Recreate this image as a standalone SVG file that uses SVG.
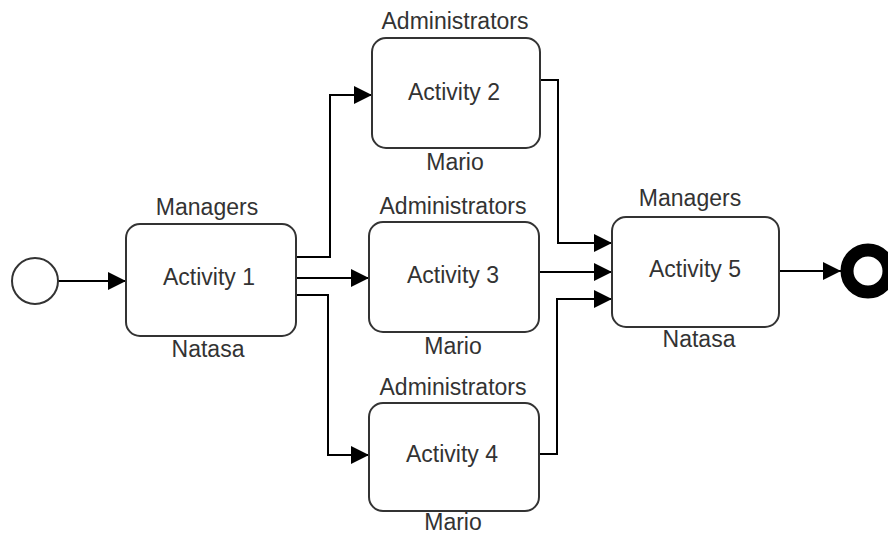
<svg xmlns="http://www.w3.org/2000/svg" width="888" height="535" viewBox="0 0 888 535">
<defs>
<marker id="arr" viewBox="0 0 18 18" refX="18" refY="9" markerWidth="18" markerHeight="18" markerUnits="userSpaceOnUse" orient="auto">
<path d="M0,0 L18,9 L0,18 Z" fill="#000"/>
</marker>
<style>
.box{fill:#fff;stroke:#333;stroke-width:2}
.t{font-family:"Liberation Sans",Arial,sans-serif;font-size:23px;fill:#333;text-anchor:middle}
.c{fill:none;stroke:#000;stroke-width:2;marker-end:url(#arr)}
</style>
</defs>
<rect width="888" height="535" fill="#fff"/>
<g id="connectors">
<path class="c" d="M58,281 H126"/>
<path class="c" d="M296,257 H330 V95 H372"/>
<path class="c" d="M296,278 H369"/>
<path class="c" d="M296,295 H328 V455 H369"/>
<path class="c" d="M540,80 H558 V243 H612"/>
<path class="c" d="M539,272 H612"/>
<path class="c" d="M539,454 H557 V299 H612"/>
<path class="c" d="M779,271 H841"/>
</g>
<g id="start"><circle cx="35" cy="281" r="23" fill="#fff" stroke="#333" stroke-width="2"/></g>
<g id="end"><circle cx="868" cy="271" r="21" fill="#fff" stroke="#000" stroke-width="13"/></g>
<g id="activity1">
<rect class="box" x="126" y="224" width="170" height="112" rx="14"/>
<text class="t" x="209" y="285">Activity 1</text>
<text class="t" x="207" y="215">Managers</text>
<text class="t" x="208" y="357">Natasa</text>
</g>
<g id="activity2">
<rect class="box" x="372" y="38" width="168" height="110" rx="14"/>
<text class="t" x="454" y="100">Activity 2</text>
<text class="t" x="455" y="29">Administrators</text>
<text class="t" x="455" y="170">Mario</text>
</g>
<g id="activity3">
<rect class="box" x="369" y="222" width="170" height="110" rx="14"/>
<text class="t" x="453" y="283">Activity 3</text>
<text class="t" x="453" y="214">Administrators</text>
<text class="t" x="453" y="354">Mario</text>
</g>
<g id="activity4">
<rect class="box" x="369" y="403" width="170" height="108" rx="14"/>
<text class="t" x="452" y="462">Activity 4</text>
<text class="t" x="453" y="395">Administrators</text>
<text class="t" x="453" y="530">Mario</text>
</g>
<g id="activity5">
<rect class="box" x="612" y="217" width="167" height="110" rx="14"/>
<text class="t" x="695" y="277">Activity 5</text>
<text class="t" x="690" y="206">Managers</text>
<text class="t" x="699" y="347">Natasa</text>
</g>
</svg>
